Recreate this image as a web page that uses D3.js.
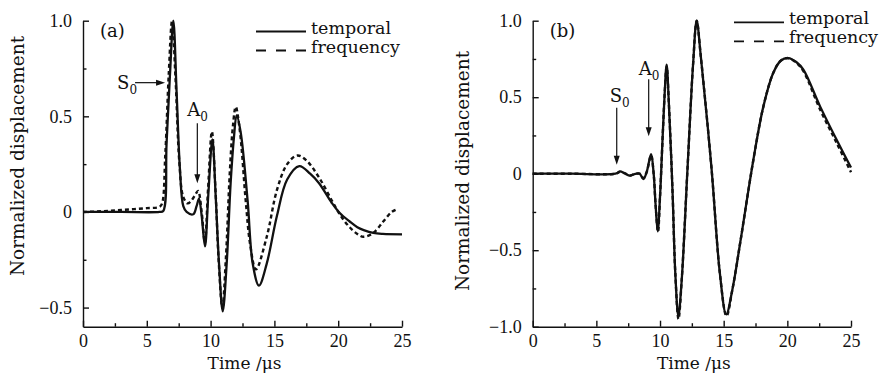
<!DOCTYPE html>
<html>
<head>
<meta charset="utf-8">
<script src="https://cdn.jsdelivr.net/npm/d3@7"></script>
<style>
  body { margin: 0; background: #fff; }
  svg { display: block; }
</style>
</head>
<body>
<div id="chart"></div>
<script>
// panel (a)
let timeA_temporal = [0, 3, 6, 6.29, 6.55, 6.81, 7.08, 7.34, 7.6, 7.86, 8.12, 8.64, 8.9, 9.09, 9.3, 9.56, 9.82, 10.14, 10.4, 10.66, 10.95, 11.26, 11.57, 11.83, 12.04, 12.35, 12.9, 13.3, 13.79, 14.4, 15.2, 16.0, 16.95, 17.8, 18.5, 19.5, 20.14, 20.9, 21.5, 22.0, 22.75, 23.5, 25];
let dispA_temporal = [0, 0, 0, 0.005, 0.36, 0.71, 1.0, 0.62, 0.22, 0.03, 0, -0.012, 0.03, 0.07, -0.02, -0.18, 0.09, 0.38, 0.08, -0.27, -0.52, -0.27, 0.15, 0.39, 0.505, 0.42, 0.06, -0.27, -0.385, -0.27, -0.02, 0.17, 0.24, 0.2, 0.15, 0.047, -0.007, -0.05, -0.08, -0.095, -0.11, -0.115, -0.117];
let timeA_frequency = [0, 1, 2, 3, 4, 5, 6, 6.2, 6.45, 6.72, 6.98, 7.25, 7.55, 7.85, 8.2, 8.5, 8.8, 9.02, 9.3, 9.55, 9.8, 10.1, 10.38, 10.62, 10.92, 11.2, 11.5, 11.75, 11.97, 12.3, 12.75, 13.1, 13.55, 14.4, 15.2, 16.0, 16.8, 17.5, 18.5, 19.5, 20.2, 20.9, 21.5, 21.97, 22.75, 23.53, 24.2, 24.7];
let dispA_frequency = [0, 0.002, 0.006, 0.01, 0.015, 0.02, 0.027, 0.045, 0.3, 0.72, 1.0, 0.7, 0.26, 0.08, 0.045, 0.06, 0.09, 0.11, 0.0, -0.16, 0.12, 0.42, 0.12, -0.24, -0.5, -0.24, 0.2, 0.45, 0.55, 0.42, 0.06, -0.17, -0.3, -0.13, 0.115, 0.25, 0.295, 0.27, 0.18, 0.06, -0.02, -0.08, -0.115, -0.13, -0.11, -0.05, 0.0, 0.016];

// panel (b)
let timeB_temporal = [0, 3, 6.5, 6.86, 7.2, 7.64, 8.0, 8.4, 8.69, 8.95, 9.3, 9.5, 9.65, 9.82, 10.0, 10.17, 10.35, 10.52, 10.7, 10.98, 11.2, 11.44, 11.7, 12.16, 12.6, 12.88, 13.2, 14.04, 14.7, 15.2, 15.7, 16.3, 17.33, 18.12, 18.9, 19.5, 20.08, 20.7, 21.26, 22.57, 23.88, 25];
let dispB_temporal = [0, 0, 0, 0.015, 0.004, -0.013, -0.002, 0, -0.035, 0.01, 0.127, 0.0, -0.2, -0.377, -0.15, 0.17, 0.5, 0.712, 0.45, -0.11, -0.65, -0.93, -0.7, 0.035, 0.72, 1.0, 0.77, 0.04, -0.65, -0.92, -0.75, -0.45, 0.09, 0.44, 0.66, 0.74, 0.756, 0.73, 0.68, 0.44, 0.22, 0.04];
let timeB_frequency = [0, 3, 6.5, 6.86, 7.2, 7.64, 8.0, 8.4, 8.69, 8.95, 9.3, 9.5, 9.65, 9.84, 10.0, 10.17, 10.35, 10.52, 10.7, 10.98, 11.2, 11.45, 11.7, 12.16, 12.6, 12.88, 13.2, 14.04, 14.7, 15.22, 15.7, 16.3, 17.33, 18.12, 18.9, 19.5, 20.08, 20.7, 21.26, 22.57, 23.88, 25];
let dispB_frequency = [0, 0, 0, 0.012, 0.004, -0.012, -0.002, 0, -0.03, 0.01, 0.12, 0.0, -0.2, -0.38, -0.15, 0.17, 0.5, 0.7, 0.45, -0.11, -0.65, -0.95, -0.7, 0.035, 0.72, 1.0, 0.77, 0.04, -0.65, -0.93, -0.75, -0.45, 0.09, 0.44, 0.66, 0.74, 0.755, 0.725, 0.67, 0.42, 0.2, 0.01];

let xMajor = [0, 5, 10, 15, 20, 25];
let xMinor = [2.5, 7.5, 12.5, 17.5, 22.5];
let yMajorA = [-0.5, 0, 0.5, 1.0];
let yMinorA = [-0.25, 0.25, 0.75];
let yMajorB = [-1.0, -0.5, 0, 0.5, 1.0];
let yMinorB = [-0.75, -0.25, 0.25, 0.75];
let seriesNames = ["temporal", "frequency"];

let svgWidth = 885;
let svgHeight = 373;
let serif = "'DejaVu Serif', serif";
let tickFont = "'Liberation Serif', serif";

let svg = d3.select("#chart")
  .append("svg")
    .attr("width", svgWidth)
    .attr("height", svgHeight)
    .style("background-color", "white");

function fmt(d){
  if(d == 0) return "0";
  return d3.format(".1f")(d).replace("-", "\u2212");
}

function zip(ts, vs){
  return ts.map((t, i) => [t, vs[i]]);
}

function drawPanel(p){
  let x = d3.scaleLinear().domain([0, 25]).range([p.left, p.right]);
  let y = d3.scaleLinear().domain(p.yDomain).range([326.7, 20.7]);
  let g = svg.append("g");

  // minor ticks first
  g.append("g").attr("transform", "translate(0,326.7)")
    .call(d3.axisBottom(x).tickValues(xMinor).tickSize(-3.5).tickFormat(""))
    .call(a => a.select(".domain").remove());
  g.append("g").attr("transform", "translate(" + p.left + ",0)")
    .call(d3.axisLeft(y).tickValues(p.yMinor).tickSize(-3.5).tickFormat(""))
    .call(a => a.select(".domain").remove());

  g.append("g").attr("transform", "translate(0,326.7)")
    .call(d3.axisBottom(x).tickValues(xMajor).tickSize(-6).tickSizeOuter(0).tickPadding(8).tickFormat(d3.format("d")));
  g.append("g").attr("transform", "translate(" + p.left + ",0)")
    .call(d3.axisLeft(y).tickValues(p.yMajor).tickSize(-6).tickSizeOuter(0).tickPadding(11).tickFormat(fmt));

  g.selectAll(".tick line, .domain").attr("stroke", "#111").attr("stroke-width", 1.4);
  g.selectAll(".tick text").attr("font-family", tickFont).attr("font-size", 18).attr("fill", "#111");

  // axis titles
  g.append("text")
    .attr("x", (p.left + p.right) / 2 + 2)
    .attr("y", 369)
    .attr("text-anchor", "middle")
    .attr("font-family", serif).attr("font-size", 17).attr("fill", "#111")
    .text("Time /\u03bcs");
  g.append("text")
    .attr("transform", "translate(" + p.yTitleX + "," + p.yTitleY + ") rotate(-90)")
    .attr("text-anchor", "middle")
    .attr("font-family", serif).attr("font-size", 18.5).attr("fill", "#111")
    .text("Normalized displacement");

  // curves
  let line = d3.line()
    .x(d => x(d[0]))
    .y(d => y(d[1]))
    .curve(d3.curveCatmullRom.alpha(0.5));

  g.append("path")
    .datum(zip(p.tTemporal, p.vTemporal))
    .attr("d", line)
    .attr("fill", "none")
    .attr("stroke", "#111")
    .attr("stroke-width", 2.3);
  g.append("path")
    .datum(zip(p.tFrequency, p.vFrequency))
    .attr("d", line)
    .attr("fill", "none")
    .attr("stroke", "#111")
    .attr("stroke-width", 2.4)
    .attr("stroke-dasharray", "4,3");

  // panel label
  g.append("text")
    .attr("x", p.left + 17).attr("y", 37)
    .attr("font-family", serif).attr("font-size", 18).attr("fill", "#111")
    .text(p.label);

  // legend
  seriesNames.forEach(function(name, i){
    let ly = p.legendY + i * 19;
    g.append("line")
      .attr("x1", p.legendX).attr("x2", p.legendX + 50)
      .attr("y1", ly).attr("y2", ly)
      .attr("stroke", "#111").attr("stroke-width", 1.8)
      .attr("stroke-dasharray", i == 0 ? null : "10,10");
    g.append("text")
      .attr("x", p.legendX + 55).attr("y", ly + 2)
      .attr("font-family", serif).attr("font-size", 17.5).attr("fill", "#111")
      .text(name);
  });

  // arrows
  p.arrows.forEach(function(a){
    let tx = x(a.t), ty = y(a.v);
    let sx = tx + a.dx, sy = ty + a.dy;
    let len = Math.hypot(a.dx, a.dy);
    let ux = -a.dx / len, uy = -a.dy / len;
    let hl = 9, hw = 3;
    g.append("line")
      .attr("x1", sx).attr("y1", sy)
      .attr("x2", tx - ux * hl * 0.8).attr("y2", ty - uy * hl * 0.8)
      .attr("stroke", "#111").attr("stroke-width", 1.2);
    let bx = tx - ux * hl, by = ty - uy * hl;
    g.append("path")
      .attr("d", "M" + tx + "," + ty + "L" + (bx - uy * hw) + "," + (by + ux * hw) + "L" + (bx + uy * hw) + "," + (by - ux * hw) + "Z")
      .attr("fill", "#111");
    let t = g.append("text")
      .attr("x", sx + a.lx).attr("y", sy + a.ly)
      .attr("font-family", serif).attr("font-size", 18).attr("fill", "#111");
    t.append("tspan").text(a.name);
    t.append("tspan").attr("font-size", 12).attr("dy", 5).text("0");
  });
}

drawPanel({
  left: 83, right: 402, yDomain: [-0.6, 1.0],
  yMajor: yMajorA, yMinor: yMinorA,
  tTemporal: timeA_temporal, vTemporal: dispA_temporal,
  tFrequency: timeA_frequency, vFrequency: dispA_frequency,
  label: "(a)", legendX: 256, legendY: 31.5,
  yTitleX: 24, yTitleY: 156,
  arrows: [
    {name: "S", t: 6.43, v: 0.676, dx: -30, dy: 0, lx: -18, ly: 6},
    {name: "A", t: 8.96, v: 0.15, dx: 0, dy: -60, lx: -10, ly: -7}
  ]
});

drawPanel({
  left: 532.7, right: 851, yDomain: [-1.0, 1.0],
  yMajor: yMajorB, yMinor: yMinorB,
  tTemporal: timeB_temporal, vTemporal: dispB_temporal,
  tFrequency: timeB_frequency, vFrequency: dispB_frequency,
  label: "(b)", legendX: 734, legendY: 22.3,
  yTitleX: 469, yTitleY: 171,
  arrows: [
    {name: "S", t: 6.6, v: 0.059, dx: 0, dy: -57, lx: -7, ly: -6},
    {name: "A", t: 9.11, v: 0.244, dx: 0, dy: -57, lx: -10, ly: -4}
  ]
});
</script>
</body>
</html>
